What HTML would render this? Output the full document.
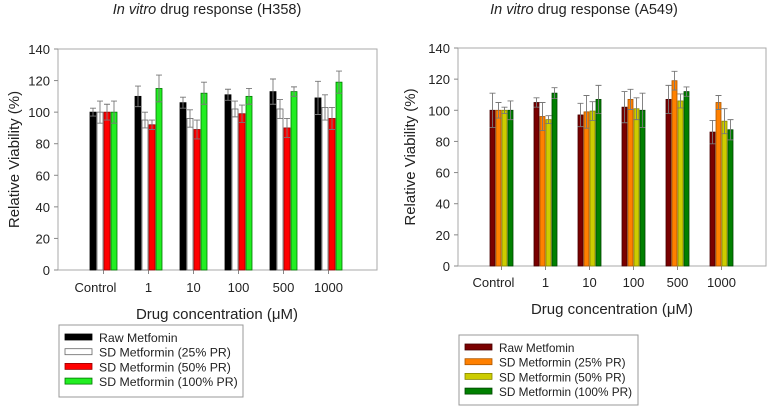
<!DOCTYPE html>
<html><head><meta charset="utf-8"><style>
html,body{margin:0;padding:0;background:#fff;}
svg{display:block;font-family:"Liberation Sans",Arial,sans-serif;}
</style></head><body>
<svg id="fig" width="768" height="408" viewBox="0 0 768 408">
<text x="207" y="14" font-size="14.5" text-anchor="middle" fill="#222"><tspan font-style="italic">In vitro</tspan> drug response (H358)</text>
<text x="584" y="14" font-size="14.5" text-anchor="middle" fill="#222"><tspan font-style="italic">In vitro</tspan> drug response (A549)</text>
<g id="left"></g>
<g id="right"></g>
</svg>
<script>
const categories = ["Control","1","10","100","500","1000"];
const seriesNames = ["Raw Metfomin","SD Metformin (25% PR)","SD Metformin (50% PR)","SD Metformin (100% PR)"];
const yTicks = [0,20,40,60,80,100,120,140];
// H358
const h358Raw = [100,110,106,111,113,109];
const h358P25 = [100,95,96,102,102,103];
const h358P50 = [100,92,89,99,90,96];
const h358P100 = [100,115,112,110,113,119];
const h358RawErr = [2.5,6.5,3.5,3.5,8,10.5];
const h358P25Err = [7,5,5.5,5,6,8];
const h358P50Err = [5,3,6,5.5,6,7];
const h358P100Err = [7,8.5,7,5,3,7];
// A549
const a549Raw = [100,105,97,102,107,86];
const a549P25 = [100,96,99,107,119,105];
const a549P50 = [100,94,99.5,101,106,93];
const a549P100 = [100,111,107,100,112,87.5];
const a549RawErr = [11,3,7.5,10,9,7.5];
const a549P25Err = [5,9,10.5,6.5,6,4.5];
const a549P50Err = [2,2.5,6,7,4.5,8];
const a549P100Err = [6,3.5,9,11,3,6.5];

const NS="http://www.w3.org/2000/svg";
function mk(tag,attrs,parent,text){const e=document.createElementNS(NS,tag);for(const k in attrs)e.setAttribute(k,attrs[k]);if(text!==undefined)e.textContent=text;parent.appendChild(e);return e;}

function drawChart(g,cfg){
  const {x0,x1,y0,y1,groupStart,groupStep,barW,values,errs,colors,strokes,tickX,labelY,titleX,titleY,yTitleX,leg,legFont} = cfg;
  const yS=v=>y0-(v/140)*(y0-y1);
  const bx=(ci,si)=>groupStart+ci*groupStep+si*(barW+1);
  const frame=mk('rect',{x:x0,y:y1,width:x1-x0,height:y0-y1,fill:'none',stroke:'#aaa','stroke-width':1},g);
  
  
  yTicks.forEach(t=>{
    const tl=mk('line',{x1:x0-4,x2:x0,y1:yS(t),y2:yS(t),stroke:'#888'},g);
    
    
    const tx=mk('text',{x:tickX,y:yS(t)+5,'font-size':13,'text-anchor':'end',fill:'#222'},g,String(t));
    
    
  });
  categories.forEach((c,ci)=>{
    const cx=bx(ci,0)+2*(barW+1)-0.5;
    const tl=mk('line',{x1:cx,x2:cx,y1:y0,y2:y0+4,stroke:'#888'},g);
    
    
    const lx = ci===0? cx-8 : cx;
    const tx=mk('text',{x:lx,y:labelY,'font-size':13,'text-anchor':'middle',fill:'#222'},g,c);
    
    
  });
  values.forEach((arr,si)=>{
    arr.forEach((v,ci)=>{
      const x=bx(ci,si);
      const r=mk('rect',{x:x,y:yS(v),width:barW,height:y0-yS(v),fill:colors[si],stroke:strokes[si],'stroke-width':0.8},g);
      
      
      const e=errs[si][ci], m=x+barW/2;
      const el=mk('path',{d:`M${m},${yS(v-e)}V${yS(v+e)}M${m-3},${yS(v+e)}H${m+3}M${m-3},${yS(v-e)}H${m+3}`,stroke:'#777','stroke-width':0.9,fill:'none'},g);
      
      
    });
  });
  const xt=mk('text',{x:titleX,y:titleY,'font-size':15,'text-anchor':'middle',fill:'#222'},g,'Drug concentration (\u03bcM)');
  
  
  const yt=mk('text',{x:0,y:0,'font-size':15,'text-anchor':'middle',fill:'#222',transform:`translate(${yTitleX},${(y0+y1)/2}) rotate(-90)`},g,'Relative Viability (%)');
  
  
  const lb=mk('rect',{x:leg.x,y:leg.y,width:leg.w,height:leg.h,fill:'#fff',stroke:'#999','stroke-width':1},g);
  
  
  seriesNames.forEach((n,si)=>{
    const yy=leg.y+13+si*14.7;
    const sw=mk('rect',{x:leg.x+6,y:yy-4,width:27,height:6,fill:colors[si],stroke:strokes[si],'stroke-width':0.8},g);
    
    
    const t=mk('text',{x:leg.x+40,y:yy+4,'font-size':legFont,fill:'#222'},g,n);
    
    
  });
}

drawChart(document.getElementById('left'),{
  x0:58,x1:377,y0:270,y1:49,groupStart:90,groupStep:45,barW:6,
  values:[h358Raw,h358P25,h358P50,h358P100],
  errs:[h358RawErr,h358P25Err,h358P50Err,h358P100Err],
  colors:['#000','#fff','#f00','#22ee22'],strokes:['#000','#666','#900','#070'],
  tickX:50,labelY:292,titleX:217,titleY:319,yTitleX:19,
  leg:{x:59,y:325,w:184,h:72},legFont:12.3
});
drawChart(document.getElementById('right'),{
  x0:458,x1:766,y0:266,y1:48,groupStart:490,groupStep:44,barW:5,
  values:[a549Raw,a549P25,a549P50,a549P100],
  errs:[a549RawErr,a549P25Err,a549P50Err,a549P100Err],
  colors:['#7a0000','#ff8000','#cccc00','#008000'],strokes:['#400','#a50','#880','#040'],
  tickX:450,labelY:287,titleX:612,titleY:314,yTitleX:415,
  leg:{x:459,y:335,w:179,h:70},legFont:11.8
});
</script>
</body></html>
